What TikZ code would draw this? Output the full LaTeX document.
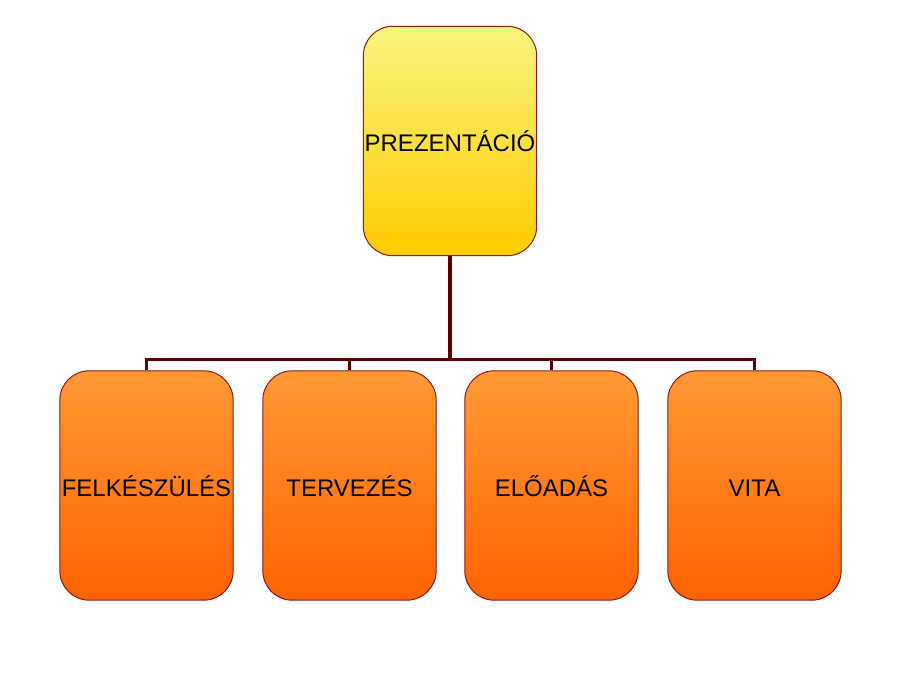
\documentclass[tikz,border=0pt]{standalone}
\usepackage{fontspec}
\setmainfont{Liberation Sans}
\definecolor{yeltop}{HTML}{F8F580}
\definecolor{yelbot}{HTML}{FFCC00}
\definecolor{ortop}{HTML}{FF9A36}
\definecolor{orbot}{HTML}{FF6200}
\definecolor{edge}{HTML}{8B1A1A}
\definecolor{conn}{HTML}{5E0000}
\begin{document}
\begin{tikzpicture}[x=0.75pt,y=-0.75pt,
  box/.style={draw=edge,line width=0.75pt,rounded corners=22pt,inner sep=0pt,
    minimum width=130pt,minimum height=172pt,text height=17.5pt,text depth=1.5pt,
    font=\fontsize{18pt}{21pt}\selectfont},
  topbox/.style={box,top color=yeltop,bottom color=yelbot},
  subbox/.style={box,top color=ortop,bottom color=orbot},
  link/.style={draw=conn,line width=2.3pt}]
\useasboundingbox (0,0) rectangle (906,673);
\node[topbox] (top) at (450,141) {PREZENTÁCIÓ};
\node[subbox] (b1) at (146.5,485.5) {FELKÉSZÜLÉS};
\node[subbox] (b2) at (349.5,485.5) {TERVEZÉS};
\node[subbox] (b3) at (551.5,485.5) {ELŐADÁS};
\node[subbox] (b4) at (754.5,485.5) {VITA};
\coordinate (bus) at (450,359.5);
\draw[link] (top.south) -- (bus);
\draw[link] (b1.north) |- (bus);
\draw[link] (b2.north) |- (bus);
\draw[link] (b3.north) |- (bus);
\draw[link] (b4.north) |- (bus);
\end{tikzpicture}
\end{document}
